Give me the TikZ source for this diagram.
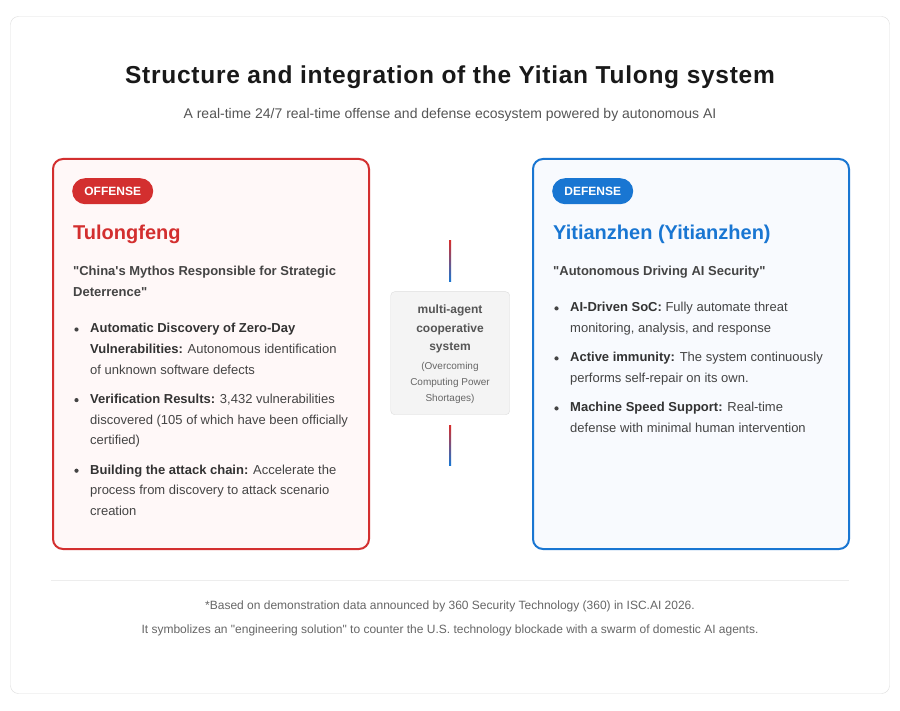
\documentclass[tikz,border=0pt]{standalone}
\usepackage{fontspec}
\setmainfont{Liberation Sans}[Ligatures=TeXOff]
\usetikzlibrary{positioning,calc}
\definecolor{offred}{HTML}{D32F2F}
\definecolor{defblue}{HTML}{1976D2}
\definecolor{offfill}{HTML}{FFF8F8}
\definecolor{deffill}{HTML}{F8FAFE}
\definecolor{txtgray}{HTML}{444444}
\definecolor{lblgray}{HTML}{333333}
\definecolor{subgray}{HTML}{555555}
\definecolor{footgray}{HTML}{666666}
\definecolor{framegray}{HTML}{DDDDDD}
\definecolor{midfill}{HTML}{F4F4F4}
\tikzstyle{card} = [rectangle, rounded corners=10pt, line width=2pt, minimum width=316pt, minimum height=390pt, anchor=north west, inner sep=0pt]
\tikzstyle{pill} = [rectangle, rounded corners=13pt, minimum width=81pt, minimum height=26pt, inner sep=0pt, anchor=north west, text=white, font=\fontsize{12}{14}\selectfont\bfseries]
\tikzstyle{head} = [anchor=north west, inner sep=0pt, font=\fontsize{20}{24}\selectfont\bfseries]
\tikzstyle{motto} = [anchor=north west, inner sep=0pt, align=left, text=txtgray, font=\fontsize{13}{20.6}\selectfont\bfseries]
\tikzstyle{bullettext} = [anchor=north west, inner sep=0pt, align=left, text=txtgray, font=\fontsize{13}{20.6}\selectfont]
\tikzstyle{midbox} = [rectangle, rounded corners=4pt, draw=framegray, fill=midfill, minimum width=119pt, minimum height=123pt, anchor=north west, inner sep=0pt]
\tikzstyle{foot} = [anchor=base, inner sep=0pt, text=footgray, font=\fontsize{12}{14}\selectfont]
\newcommand{\lbl}[1]{\textcolor{lblgray}{\bfseries #1}}
\newcommand{\bulletdot}[1]{\fill[txtgray] ($(#1.north west)+(-13.5,11.2)$) circle (2.1pt);}

\begin{document}
\begin{tikzpicture}[x=1pt,y=-1pt]

\fill[white] (0,0) rectangle (900,711);
\useasboundingbox (0,0) rectangle (900,711);
\draw[framegray, rounded corners=8pt] (10.5,16.5) rectangle (889.5,693.5);

% heading
\node (title) [anchor=base, inner sep=0pt, text=black!90, font=\fontsize{24.5}{28}\selectfont\bfseries\addfontfeature{LetterSpace=3}] at (450,84) {Structure and integration of the Yitian Tulong system};
\node (subtitle) [anchor=base, inner sep=0pt, text=subgray, font=\fontsize{14}{17}\selectfont] at (450,119) {A real-time 24/7 real-time offense and defense ecosystem powered by autonomous AI};

% offense card
\node (offcard) [card, draw=offred, fill=offfill] at (52,158) {};
\node (offpill) [pill, fill=offred] at (72,178) {OFFENSE};
\node (offhead) [head, text=offred, below=18pt of offpill.south west, anchor=north west, xshift=1pt] {\strut Tulongfeng};
\node (offmotto) [motto, below=14.4pt of offhead.south west, anchor=north west] {\strut"China's Mythos Responsible for Strategic\\Deterrence"\strut};
\node (o1) [bullettext, below=15.5pt of offmotto.south west, anchor=north west, xshift=17pt] {\strut\lbl{Automatic Discovery of Zero-Day}\\\lbl{Vulnerabilities:} Autonomous identification\\of unknown software defects\strut};
\node (o2) [bullettext, below=8.4pt of o1.south west, anchor=north west] {\strut\lbl{Verification Results:} 3,432 vulnerabilities\\discovered (105 of which have been officially\\certified)\strut};
\node (o3) [bullettext, below=8.4pt of o2.south west, anchor=north west] {\strut\lbl{Building the attack chain:} Accelerate the\\process from discovery to attack scenario\\creation\strut};

% defense card
\node (defcard) [card, draw=defblue, fill=deffill] at (532,158) {};
\node (defpill) [pill, fill=defblue] at (552,178) {DEFENSE};
\node (defhead) [head, text=defblue, below=18pt of defpill.south west, anchor=north west, xshift=1pt] {\strut Yitianzhen (Yitianzhen)};
\node (defmotto) [motto, below=14.4pt of defhead.south west, anchor=north west] {\strut"Autonomous Driving AI Security"\strut};
\node (d1) [bullettext, below=15pt of defmotto.south west, anchor=north west, xshift=17pt] {\strut\lbl{AI-Driven SoC:} Fully automate threat\\monitoring, analysis, and response\strut};
\node (d2) [bullettext, below=8.4pt of d1.south west, anchor=north west] {\strut\lbl{Active immunity:} The system continuously\\performs self-repair on its own.\strut};
\node (d3) [bullettext, below=8.4pt of d2.south west, anchor=north west] {\strut\lbl{Machine Speed Support:} Real-time\\defense with minimal human intervention\strut};

\foreach \b in {o1,o2,o3,d1,d2,d3} {\bulletdot{\b}}

% middle
\node (agentbox) [midbox] at (390.5,291.5) {};
\node (agentname) [anchor=north, inner sep=0pt, align=center, text=subgray, font=\fontsize{12}{18.5}\selectfont\bfseries] at (450,300.7) {\strut multi-agent\\cooperative\\system\strut};
\node (agentnote) [anchor=north, inner sep=0pt, align=center, text=footgray, font=\fontsize{10}{16}\selectfont, below=1.5pt of agentname] {\strut(Overcoming\\Computing Power\\Shortages)\strut};
\coordinate (uptop) at (450,241);
\coordinate (downend) at (450,465);
\shade[top color=offred, bottom color=defblue] ($(uptop)+(-1,0)$) rectangle ($(agentbox.north)+(1,-10)$);
\shade[top color=offred, bottom color=defblue] ($(agentbox.south)+(-1,11)$) rectangle ($(downend)+(1,0)$);

% footer
\draw[black!7] (51,580.5) -- (849,580.5);
\node (src) [foot] at (450,609) {*Based on demonstration data announced by 360 Security Technology (360) in ISC.AI 2026.};
\node (meaning) [foot] at (450,633) {It symbolizes an "engineering solution" to counter the U.S. technology blockade with a swarm of domestic AI agents.};

\end{tikzpicture}
\end{document}
